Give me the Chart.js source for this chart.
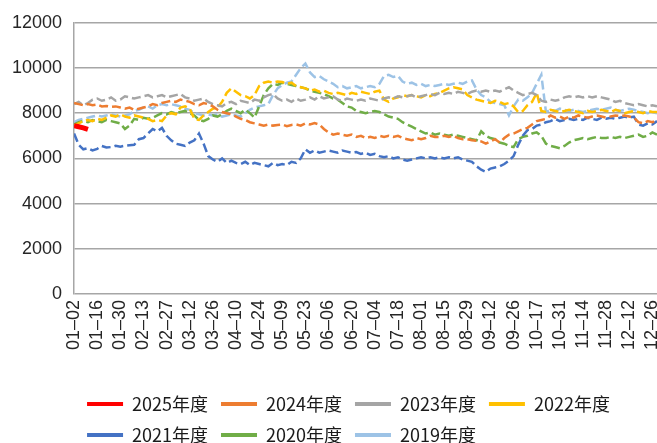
<!DOCTYPE html>
<html lang="zh-CN">
<head>
    <title>年度走势</title>
    <meta charset="UTF-8">
    <script src="https://cdn.jsdelivr.net/npm/chart.js"></script>
    <style>
        body {
            margin: 0;
            padding: 0;
            background: #ffffff;
        }

        #wrap {
            width: 657px;
            height: 443px;
        }
    </style>
</head>
<body>
    <div id="wrap">
        <canvas id="myLineChart"></canvas>
    </div>

    <script>
        // 横轴刻度（每10个交易日一个）
        var tickLabels = ["01–02", "01–16", "01–30", "02–13", "02–27", "03–12", "03–26", "04–10", "04–24", "05–09",
            "05–23", "06–06", "06–20", "07–04", "07–18", "08–01", "08–15", "08–29", "09–12", "09–26",
            "10–17", "10–31", "11–14", "11–28", "12–12", "12–26"];
        var tickValues = [0, 2000, 4000, 6000, 8000, 10000, 12000];

        // 每隔2个交易日取一个点
        var dayStep = 2;

        var names = ["2025年度", "2024年度", "2023年度", "2022年度", "2021年度", "2020年度", "2019年度"];

        var s2025 = [7450, 7400, 7350, 7280];

        var s2024 = [8450, 8400, 8350, 8400, 8350, 8380, 8300, 8320, 8280, 8300,
            8250, 8200, 8250, 8150, 8200, 8250, 8300, 8400, 8350, 8450,
            8500, 8550, 8500, 8600, 8550, 8500, 8400, 8350, 8450, 8400,
            8300, 8150, 8050, 8000, 7950, 7850, 7750, 7700, 7600, 7550,
            7500, 7450, 7500, 7450, 7480, 7500, 7420, 7480, 7500, 7450,
            7550, 7500, 7560, 7500, 7300, 7150, 7050, 7100, 7050, 7000,
            7050, 6950, 7000, 6900, 6950, 6900, 7000, 6950, 7000, 6950,
            7000, 6900, 6850, 6800, 6900, 6850, 6900, 7000, 6950, 6950,
            7000, 6950, 7000, 6900, 6850, 6850, 6800, 6780, 6750, 6650,
            6750, 6850, 6700, 6900, 7050, 7100, 7200, 7300, 7350, 7500,
            7650, 7700, 7750, 7900, 7800, 7850, 7750, 7850, 7800, 7900,
            7850, 7800, 7850, 7900, 7850, 7800, 7850, 7900, 7880, 7900,
            7850, 7800, 7600, 7550, 7650, 7600, 7700];

        var s2023 = [8400, 8500, 8350, 8450, 8600, 8650, 8550, 8600, 8700, 8550,
            8600, 8750, 8700, 8650, 8700, 8750, 8800, 8700, 8750, 8800,
            8700, 8750, 8800, 8850, 8700, 8650, 8550, 8600, 8650, 8500,
            8400, 8350, 8300, 8450, 8500, 8400, 8550, 8500, 8450, 8600,
            8550, 8700, 8800, 8850, 8650, 8550, 8600, 8500, 8650, 8550,
            8600, 8700, 8600, 8750, 8650, 8700, 8750, 8600, 8550, 8650,
            8600, 8550, 8600, 8550, 8650, 8600, 8550, 8650, 8700, 8650,
            8750, 8700, 8750, 8800, 8700, 8750, 8800, 8850, 8800, 8900,
            8850, 8900, 8850, 8950, 8900, 8850, 8950, 9000, 8950, 9000,
            8950, 9000, 8950, 9050, 9150, 9000, 8900, 8800, 8850, 8900,
            8800, 8550, 8500, 8600, 8550, 8600, 8700, 8750, 8700, 8750,
            8700, 8750, 8700, 8750, 8700, 8650, 8600, 8500, 8550, 8450,
            8400, 8350, 8400, 8350, 8300, 8350, 8300];

        var s2022 = [7450, 7550, 7650, 7700, 7650, 7750, 7700, 7800, 7900, 7850,
            7950, 7850, 7800, 7900, 7850, 7800, 7750, 7650, 7700, 7650,
            7900, 8000, 7950, 8250, 8300, 8200, 7750, 7700, 7900, 8050,
            8200, 8250, 8500, 8900, 9100, 8950, 8800, 8750, 8650, 8800,
            9200, 9350, 9400, 9350, 9400, 9380, 9300, 9350, 9200, 9150,
            9100, 9000, 9050, 8950, 9000, 8900, 8850, 8900, 8850, 8800,
            8900, 8850, 8950, 8900, 8850, 8950, 9000, 8600, 8500, 8650,
            8700, 8800, 8750, 8800, 8750, 8700, 8800, 8750, 8850, 8900,
            9000, 9100, 9150, 9100, 9050, 8800, 8700, 8600, 8550, 8500,
            8450, 8550, 8500, 8400, 8450, 8300, 8050, 8100, 8350, 8500,
            8900, 8100, 8050, 8150, 8100, 8050, 8100, 8150, 8100, 8050,
            8000, 8100, 8050, 8100, 8150, 8100, 8050, 8150, 8100, 8000,
            8050, 8100, 8050, 8000, 8100, 8050, 8050];

        var s2021 = [7100, 6600, 6400, 6450, 6350, 6420, 6550, 6480, 6500, 6560,
            6520, 6560, 6580, 6600, 6850, 6900, 7100, 7300, 7200, 7350,
            7000, 6800, 6650, 6600, 6550, 6700, 6800, 7100, 6650, 6100,
            5950, 5850, 6000, 5800, 5900, 5800, 5750, 5850, 5700, 5800,
            5750, 5700, 5650, 5800, 5700, 5750, 5700, 5850, 5800, 6000,
            6400, 6250, 6350, 6250, 6300, 6350, 6300, 6250, 6350, 6300,
            6250, 6280, 6200, 6250, 6150, 6200, 6100, 6050, 6100, 6000,
            6050, 5950, 5900, 5950, 6000, 6050, 6000, 6050, 6000, 6050,
            6000, 6050, 6000, 6050, 5950, 5900, 5850, 5650, 5500, 5400,
            5550, 5600, 5650, 5750, 5900, 6100, 6600, 7000, 7250, 7300,
            7450, 7500, 7600, 7650, 7750, 7650, 7700, 7750, 7700, 7750,
            7700, 7800, 7750, 7700, 7800, 7750, 7800, 7750, 7800, 7850,
            7800, 7850, 7500, 7450, 7550, 7500, 7650];

        var s2020 = [7500, 7600, 7650, 7600, 7700, 7650, 7600, 7700, 7650, 7600,
            7550, 7300, 7450, 7750, 7700, 7800, 7750, 7800, 7900, 8000,
            7950, 8050, 8000, 8050, 8100, 8000, 7900, 7700, 7650, 7750,
            7900, 7850, 7950, 8100, 8200, 8100, 8000, 8150, 8000, 7800,
            8300, 8800, 9100, 9300, 9250, 9350, 9300, 9250, 9200, 9150,
            9100, 9000, 8950, 8900, 8850, 8750, 8650, 8600, 8450, 8300,
            8250, 8100, 8050, 8000, 8050, 8100, 8050, 7950, 7850, 7800,
            7750, 7600, 7500, 7400, 7300, 7200, 7100, 7150, 7050, 7100,
            7050, 7000, 7050, 7000, 6950, 6900, 6850, 6800, 7200, 7000,
            6900, 6850, 6700, 6650, 6550, 6500, 6850, 6950, 7000, 7100,
            7150, 7000, 6650, 6550, 6500, 6450, 6550, 6700, 6800, 6850,
            6900, 6850, 6900, 6950, 6900, 6900, 6950, 6900, 6950, 6900,
            6950, 7000, 7050, 6950, 7000, 7150, 7050];

        var s2019 = [7600, 7700, 7750, 7800, 7850, 7900, 7850, 7900, 7950, 7900,
            7850, 7900, 7950, 8100, 8150, 8250, 8300, 8200, 8350, 8400,
            8350, 8400, 8350, 8300, 8200, 8150, 8000, 7950, 7900, 7950,
            7900, 7950, 7850, 7900, 7950, 7900, 7850, 8000, 8150, 8250,
            8300, 8350, 8400, 8800, 9100, 9250, 9350, 9400, 9700, 10000,
            10200, 9800, 9600, 9650, 9500, 9400, 9300, 9150, 9200, 9100,
            9150, 9200, 9100, 9150, 9200, 9150, 9300, 9650, 9700, 9600,
            9650, 9400, 9300, 9350, 9250, 9300, 9200, 9250, 9200, 9250,
            9300, 9250, 9300, 9350, 9300, 9400, 9450, 9050, 8800, 8700,
            8500, 8450, 8400, 8350, 7900, 8300, 8600, 8550, 8700, 8900,
            9300, 9700, 8050, 8150, 8100, 8200, 8150, 8100, 8150, 8100,
            8050, 8100, 8150, 8200, 8150, 8200, 8250, 8150, 8100, 8150,
            8200, 8150, 8100, 8050, 8000, 8050, 8000];

        var colors = ["#ff0000", "#ed7d31", "#a5a5a5", "#ffc000", "#4472c4", "#70ad47", "#9dc3e6"];

        // 把每个序列变成 {x, y} 点
        function toPoints(values) {
            return values.map(function(v, i) {
                return { x: i * dayStep, y: v };
            });
        }

        var series = [s2025, s2024, s2023, s2022, s2021, s2020, s2019];
        var datasets = series.map(function(values, k) {
            var isCurrent = (k === 0);
            return {
                label: names[k],
                data: toPoints(values),
                borderColor: colors[k],
                backgroundColor: colors[k],
                borderWidth: isCurrent ? 5 : 2.5,
                borderDash: isCurrent ? [] : [9, 4],
                pointRadius: 0,
                tension: 0,
                fill: false
            };
        });

        var tickFont = { family: "'Liberation Sans', Arial, sans-serif", size: 18 };

        var ctx = document.getElementById("myLineChart").getContext('2d');
        var myLineChart = new Chart(ctx, {
            type: 'line',
            data: { datasets: datasets },
            options: {
                responsive: true,
                maintainAspectRatio: false,
                animation: false,
                layout: {
                    padding: { left: 0, right: 0, top: 10, bottom: -11 }
                },
                scales: {
                    x: {
                        type: 'linear',
                        min: 0,
                        max: 252,
                        grid: { display: false, drawTicks: false },
                        border: { display: false },
                        // 不给最后一个标签留右边距，让图区到画布右边
                        afterFit: function(axis) {
                            axis.paddingLeft = 0;
                            axis.paddingRight = 0;
                        },
                        ticks: {
                            stepSize: 10,
                            includeBounds: false,
                            autoSkip: false,
                            minRotation: 90,
                            maxRotation: 90,
                            padding: 6,
                            color: '#262626',
                            font: tickFont,
                            callback: function(value) {
                                return tickLabels[Math.round(value / 10)];
                            }
                        },
                        title: {
                            display: true,
                            text: ' ',
                            font: { size: 10 },
                            padding: { top: 0, bottom: 14 }
                        }
                    },
                    y: {
                        min: 0,
                        max: 12000,
                        afterBuildTicks: function(axis) {
                            axis.ticks = tickValues.map(function(v) { return { value: v }; });
                        },
                        grid: { color: '#a6a6a6', lineWidth: 1.5, drawTicks: false },
                        border: { display: true, color: '#a6a6a6', width: 1.5 },
                        ticks: {
                            padding: 12,
                            color: '#262626',
                            font: tickFont,
                            callback: function(value) {
                                return String(value);
                            }
                        }
                    }
                },
                plugins: {
                    tooltip: { enabled: false },
                    legend: {
                        position: 'bottom',
                        align: 'start',
                        fullSize: false,
                        labels: {
                            boxWidth: 36,
                            boxHeight: 4,
                            padding: 13,
                            color: '#1a1a1a',
                            font: { family: "'Noto Sans CJK SC', sans-serif", size: 18 },
                            // 图例用实线
                            generateLabels: function(chart) {
                                var items = Chart.defaults.plugins.legend.labels.generateLabels(chart);
                                items.forEach(function(item) {
                                    item.lineDash = [];
                                    item.lineWidth = 0;
                                    item.fillStyle = item.strokeStyle;
                                });
                                return items;
                            }
                        }
                    }
                }
            }
        });
    </script>
</body>
</html>
